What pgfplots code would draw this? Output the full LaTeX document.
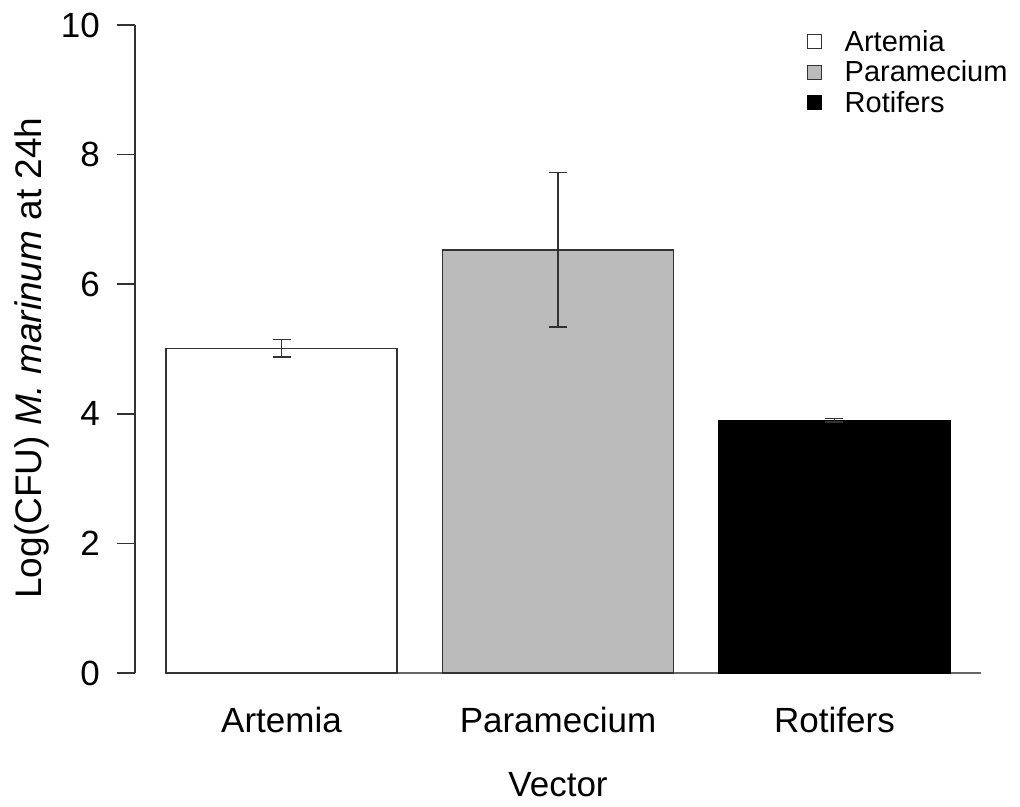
\documentclass[border=0pt]{standalone}
\usepackage{pgfplots}
\pgfplotsset{compat=1.18}
\usepackage{fontspec}
\setmainfont{Liberation Sans}
\definecolor{axisgray}{RGB}{50,50,50}
\definecolor{paragray}{RGB}{187,187,187}
\begin{document}
\begin{tikzpicture}
\useasboundingbox (-135pt,-133pt) rectangle (885pt,673pt);
\begin{axis}[
  at={(0pt,0pt)}, anchor=south west,
  scale only axis, width=846pt, height=648pt,
  xmin=-0.53, xmax=2.53, ymin=0, ymax=10,
  axis lines*=left,
  x axis line style={draw=none},
  y axis line style={line width=1.5pt, color=axisgray},
  xtick={0,1,2}, xticklabels={Artemia,Paramecium,Rotifers},
  ytick={0,2,4,6,8,10},
  tick align=outside,
  major tick length=18pt,
  xtick style={draw=none},
  ytick style={line width=1.5pt, color=axisgray},
  /pgf/number format/assume math mode=true,
  ticklabel style={font=\fontsize{35}{40}\selectfont},
  yticklabel style={anchor=east, inner sep=0pt, xshift=-17pt},
  xticklabel style={anchor=base, inner sep=0pt, yshift=-41pt},
  xlabel={Vector},
  ylabel={Log(CFU) \textit{M. marinum} at 24h},
  xlabel style={font=\fontsize{35}{40}\selectfont, at={(axis description cs:0.5,-0.19)}, anchor=base, inner sep=0pt},
  ylabel style={font=\fontsize{37}{42}\selectfont, at={(axis description cs:-0.122,0.486)}, anchor=center, rotate=0},
  clip=false,
  legend style={at={(axis description cs:0.79,0.995)}, anchor=north west, draw=none, fill=none,
    font=\fontsize{29}{32}\selectfont, nodes={inner sep=0pt}, column sep=23pt, row sep=8pt},
  legend cell align=left,
  legend image code/.code={\draw[#1, line width=1.2pt] (0pt,-7pt) rectangle (14pt,7pt);},
  error bars/error bar style={line width=1.5pt, color=axisgray},
  error bars/error mark options={line width=1.5pt, mark size=9pt, rotate=90, color=axisgray},
]
\addplot[forget plot, line width=1.5pt, color=black!60] coordinates {(-0.4175,0) (2.53,0)};
\addplot[ybar, bar width=231pt, bar shift=0pt, fill=white, draw=axisgray, line width=1.5pt,
  error bars/.cd, y dir=both, y explicit]
  coordinates {(0,5.01) +- (0,0.135)};
\addlegendentry{Artemia}
\addplot[ybar, bar width=231pt, bar shift=0pt, fill=paragray, draw=axisgray, line width=1.5pt,
  error bars/.cd, y dir=both, y explicit]
  coordinates {(1,6.53) +- (0,1.19)};
\addlegendentry{Paramecium}
\addplot[ybar, bar width=231pt, bar shift=0pt, fill=black, draw=black, line width=1.5pt,
  error bars/.cd, y dir=both, y explicit]
  coordinates {(2,3.90) +- (0,0.03)};
\addlegendentry{Rotifers}
\end{axis}
\end{tikzpicture}
\end{document}
